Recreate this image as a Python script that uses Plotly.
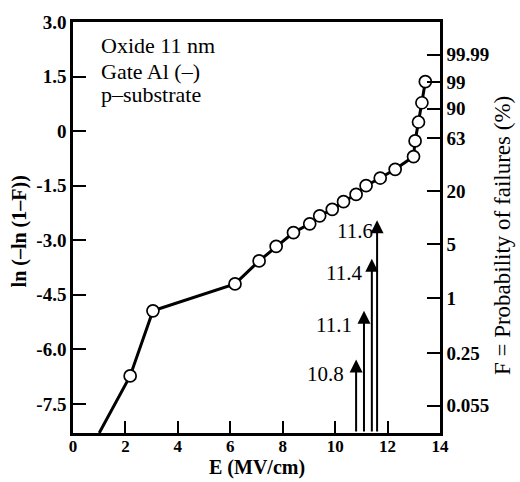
import plotly.graph_objects as go

# Breakdown field (MV/cm) and Weibull ordinate ln(-ln(1-F))
field_E = [2.18, 3.05, 6.18, 7.10, 7.75, 8.41, 9.03, 9.41, 9.89, 10.32,
           10.80, 11.18, 11.72, 12.29, 12.99, 13.05, 13.18, 13.31, 13.44]
weibull_y = [-6.73, -4.94, -4.20, -3.57, -3.17, -2.79, -2.55, -2.33, -2.15, -1.94,
             -1.74, -1.50, -1.29, -1.05, -0.70, -0.27, 0.25, 0.78, 1.36]

# the fitted line continues below the frame before the first measured point
tail_E = [1.0]
tail_y = [-8.3]

# arrows marking single-field failure onsets
arrow_E = [10.8, 11.1, 11.4, 11.6]
arrow_tip = [-6.28, -4.94, -3.51, -2.45]
arrow_label_x = [10.40, 10.71, 11.09, 11.51]
arrow_label_y = [-6.68, -5.34, -3.89, -2.74]

# axis ticks
left_ticks = [3.0, 1.5, 0.0, -1.5, -3.0, -4.5, -6.0, -7.5]
left_text = ["3.0", "1.5", "0", "-1.5", "-3.0", "-4.5", "-6.0", "-7.5"]
right_ticks = [2.10, 1.35, 0.62, -0.20, -1.65, -3.10, -4.60, -6.10, -7.55]
right_text = ["99.99", "99", "90", "63", "20", "5", "1", "0.25", "0.055"]

Y_RANGE = [-8.3, 3.0]
X_RANGE = [0, 14]
FONT = "Liberation Serif"

fig = go.Figure()

fig.add_trace(go.Scatter(
    x=tail_E + field_E, y=tail_y + weibull_y, mode="lines",
    line=dict(color="black", width=3), showlegend=False, hoverinfo="skip"))

fig.add_trace(go.Scatter(
    x=field_E, y=weibull_y, mode="markers",
    marker=dict(size=12, color="white", line=dict(color="black", width=1.7)),
    showlegend=False, cliponaxis=False))

# invisible trace to activate the right-hand probability axis
fig.add_trace(go.Scatter(x=[None], y=[None], yaxis="y2", showlegend=False))

annotations = []
for xe, yt, lx, ly in zip(arrow_E, arrow_tip, arrow_label_x, arrow_label_y):
    annotations.append(dict(
        x=xe, y=yt, ax=xe, ay=Y_RANGE[0], xref="x", yref="y", axref="x", ayref="y",
        text="", showarrow=True, arrowhead=2, arrowsize=1.3, arrowwidth=2,
        arrowcolor="black"))
    annotations.append(dict(
        x=lx, y=ly, xref="x", yref="y", text=f"{xe:.1f}", showarrow=False,
        xanchor="right", yanchor="middle",
        font=dict(family=FONT, size=21, color="black")))

for txt, yy in zip(["Oxide 11 nm", "Gate Al (–)", "p–substrate"], [2.36, 1.65, 1.02]):
    annotations.append(dict(
        x=1.0, y=yy, xref="x", yref="y", text=txt, showarrow=False,
        xanchor="left", yanchor="middle",
        font=dict(family=FONT, size=22, color="black")))

annotations += [
    dict(x=-0.145, y=0.49, xref="paper", yref="paper", text="<b>ln (–ln (1–F))</b>",
         textangle=-90, showarrow=False, xanchor="center", yanchor="middle",
         font=dict(family=FONT, size=20, color="black")),
    dict(x=1.17, y=0.48, xref="paper", yref="paper",
         text="F = Probability of failures (%)",
         textangle=-90, showarrow=False, xanchor="center", yanchor="middle",
         font=dict(family=FONT, size=23, color="black")),
    dict(x=0.5, y=-0.1148, xref="paper", yref="paper", text="<b>E (MV/cm)</b>",
         showarrow=False, xanchor="center", yanchor="bottom", borderpad=0,
         font=dict(family=FONT, size=20, color="black")),
]

tickfont = dict(family=FONT, size=19, color="black", weight="bold")
xtickfont = dict(family=FONT, size=17, color="black", weight="bold")

fig.update_layout(
    width=520, height=482,
    margin=dict(l=73, r=80, t=15, b=49),
    paper_bgcolor="white", plot_bgcolor="white",
    font=dict(family=FONT, color="black"),
    annotations=annotations,
    xaxis=dict(range=X_RANGE, tickvals=[0, 2, 4, 6, 8, 10, 12, 14],
               ticks="inside", ticklen=12, tickwidth=2, tickcolor="black",
               ticklabelstandoff=-4,
               showline=True, linewidth=2.5, linecolor="black", mirror=True,
               showgrid=False, zeroline=False, tickfont=xtickfont),
    yaxis=dict(range=Y_RANGE, tickvals=left_ticks, ticktext=left_text,
               ticks="inside", ticklen=13, tickwidth=2, tickcolor="black",
               showline=True, linewidth=2.5, linecolor="black",
               showgrid=False, zeroline=False, tickfont=tickfont),
    yaxis2=dict(range=Y_RANGE, overlaying="y", side="right",
                tickvals=right_ticks, ticktext=right_text,
                ticks="inside", ticklen=13, tickwidth=2, tickcolor="black",
                showline=True, linewidth=2.5, linecolor="black",
                showgrid=False, zeroline=False, tickfont=tickfont),
)

fig.write_html("out.html")
